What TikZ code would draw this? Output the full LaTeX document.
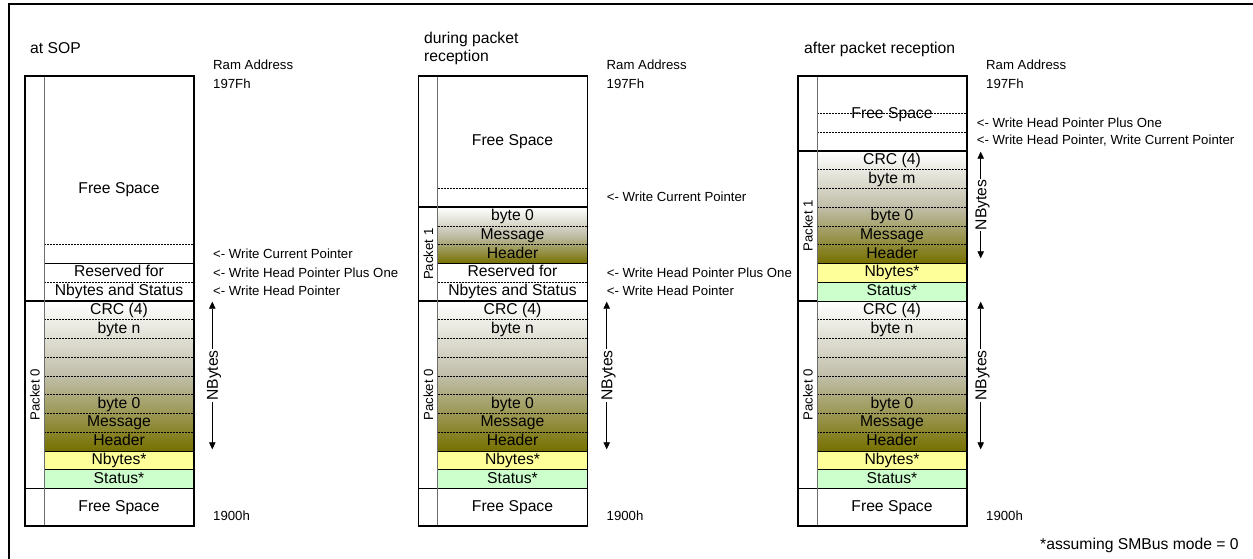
\documentclass[tikz,border=0pt]{standalone}
\usepackage{fontspec}
\setmainfont{Liberation Sans}
\usetikzlibrary{arrows.meta}
\definecolor{olv}{RGB}{118,112,0}
\definecolor{olmid}{RGB}{192,190,168}
\definecolor{nby}{RGB}{255,255,153}
\definecolor{sta}{RGB}{204,255,204}
\definecolor{innergray}{RGB}{110,110,110}
\tikzset{
 big/.style={font=\fontsize{15.7}{18}\selectfont},
 small/.style={font=\fontsize{13.2}{15}\selectfont},
 rowtxt/.style={big, inner sep=0pt, text height=11.2pt, text depth=3.3pt},
 ann/.style={small, inner sep=0pt, anchor=base west},
 ttl/.style={big, inner sep=0pt, anchor=base west},
 pkt/.style={small, inner sep=0pt, rotate=90, text height=9.4pt, text depth=0pt},
 sep/.style={dash pattern=on 2pt off 1pt, line width=0.6pt},
 solidsep/.style={line width=0.7pt},
 pktline/.style={line width=1.6pt},
 boxline/.style={line width=1.2pt},
 innerline/.style={line width=0.8pt, draw=innergray},
 nbarrow/.style={line width=0.8pt, {Triangle[length=7pt,width=6.5pt]}-{Triangle[length=7pt,width=6.5pt]}},
 nblabel/.style={big, inner sep=0.8pt, fill=white, rotate=90, text height=11.2pt, text depth=0pt},
 pktshade/.style={top color=white, bottom color=olv, middle color=olmid},
}
% frame of one memory column: #1 = left x
\newcommand\memframe[1]{%
 \draw[innerline] ({#1+19},{ry(0)}) -- ({#1+19},{ry(24)});
 \draw[boxline] ({#1},{ry(0)}) rectangle ({#1+169},{ry(24)});
}
% packet 0 and the common labels: #1 = left x, #2 = name prefix, #3 = arrow x
\newcommand\pktzero[3]{%
 \shade[pktshade] ({#1+19},{ry(12)}) rectangle ({#1+169},{ry(20)});
 \fill[nby] ({#1+19},{ry(20)}) rectangle ({#1+169},{ry(21)});
 \fill[sta] ({#1+19},{ry(21)}) rectangle ({#1+169},{ry(22)});
 \foreach \k in {13,...,19} {\draw[sep] ({#1+19},{ry(\k)}) -- ({#1+169},{ry(\k)});}
 \draw[solidsep] ({#1+19},{ry(20)}) -- ({#1+169},{ry(20)});
 \draw[solidsep] ({#1+19},{ry(21)}) -- ({#1+169},{ry(21)});
 \draw[pktline] ({#1},{ry(12)}) -- ({#1+169},{ry(12)});
 \draw[pktline] ({#1},{ry(22)}) -- ({#1+169},{ry(22)});
 \node[rowtxt] (#2crcz) at ({#1+94},{ry(12.5)}) {CRC (4)};
 \node[rowtxt] (#2bn) at ({#1+94},{ry(13.5)}) {byte n};
 \node[rowtxt] (#2bzz) at ({#1+94},{ry(17.5)}) {byte 0};
 \node[rowtxt] (#2msgz) at ({#1+94},{ry(18.5)}) {Message};
 \node[rowtxt] (#2hdrz) at ({#1+94},{ry(19.5)}) {Header};
 \node[rowtxt] (#2nbz) at ({#1+94},{ry(20.5)}) {Nbytes*};
 \node[rowtxt] (#2stz) at ({#1+94},{ry(21.5)}) {Status*};
 \node[rowtxt] (#2fsb) at ({#1+94},507.8) {Free Space};
 \node[pkt] (#2pz) at ({#1+10},{ry(17)}) {Packet 0};
 \coordinate (#2ntz) at (#3,301.7);
 \coordinate (#2nbtz) at (#3,449.3);
 \draw[nbarrow] (#2ntz) -- node[nblabel] (#2nlz) {NBytes} (#2nbtz);
 \node[ann] (#2addr) at ({#1+188},70) {Ram Address};
 \node[ann] (#2top) at ({#1+188},89) {197Fh};
 \node[ann] (#2bot) at ({#1+188},520) {1900h};
}
\begin{document}
\begin{tikzpicture}[x=1pt,y=-1pt,declare function={ry(\i)=76+18.75*\i;}]
\useasboundingbox (0,0) rectangle (1253,559);
\fill[white] (0,0) rectangle (1253,559);
\draw[line width=2pt] (9,559) -- (9,4) -- (1253,4);

% ---------------- column 1: at SOP ----------------
\node[ttl] (t1) at (30,53.3) {at SOP};
\pktzero{25}{a}{212.3}
\draw[sep] (44,{ry(9)}) -- (194,{ry(9)});
\draw[solidsep] (44,{ry(10)}) -- (194,{ry(10)});
\draw[sep] (44,{ry(11)}) -- (194,{ry(11)});
\memframe{25}
\node[rowtxt] (afs) at (119,189.4) {Free Space};
\node[rowtxt] (ares) at (119,{ry(10.5)}) {Reserved for};
\node[rowtxt] (ans) at (119,{ry(11.5)}) {Nbytes and Status};
\node[ann] (awc) at (213,258.3) {<- Write Current Pointer};
\node[ann] (awhp) at (213,277.3) {<- Write Head Pointer Plus One};
\node[ann] (awh) at (213,295) {<- Write Head Pointer};

% ---------------- column 2: during packet reception ----------------
\node[ttl] (t2a) at (424,43.7) {during packet};
\node[ttl] (t2b) at (424,61.7) {reception};
\pktzero{418.5}{b}{606.7}
\shade[pktshade] (437.5,{ry(7)}) rectangle (587.5,{ry(10)});
\draw[sep] (437.5,{ry(6)}) -- (587.5,{ry(6)});
\draw[sep] (437.5,{ry(8)}) -- (587.5,{ry(8)});
\draw[sep] (437.5,{ry(9)}) -- (587.5,{ry(9)});
\draw[solidsep] (437.5,{ry(10)}) -- (587.5,{ry(10)});
\draw[sep] (437.5,{ry(11)}) -- (587.5,{ry(11)});
\draw[pktline] (418.5,{ry(7)}) -- (587.5,{ry(7)});
\memframe{418.5}
\node[rowtxt] (bfs) at (512.5,142) {Free Space};
\node[rowtxt] (bbz) at (512.5,{ry(7.5)}) {byte 0};
\node[rowtxt] (bmsg) at (512.5,{ry(8.5)}) {Message};
\node[rowtxt] (bhdr) at (512.5,{ry(9.5)}) {Header};
\node[rowtxt] (bres) at (512.5,{ry(10.5)}) {Reserved for};
\node[rowtxt] (bns) at (512.5,{ry(11.5)}) {Nbytes and Status};
\node[pkt] (bp1) at (428.5,{ry(9.5)}) {Packet 1};
\node[ann] (bwc) at (606.7,201.7) {<- Write Current Pointer};
\node[ann] (bwhp) at (606.7,277.3) {<- Write Head Pointer Plus One};
\node[ann] (bwh) at (606.7,295) {<- Write Head Pointer};

% ---------------- column 3: after packet reception ----------------
\node[ttl] (t3) at (804,53.3) {after packet reception};
\pktzero{798}{c}{980.7}
\shade[pktshade] (817,{ry(4)}) rectangle (967,{ry(10)});
\fill[nby] (817,{ry(10)}) rectangle (967,{ry(11)});
\fill[sta] (817,{ry(11)}) rectangle (967,{ry(12)});
\draw[sep] (817,{ry(2)}) -- (967,{ry(2)});
\draw[sep] (817,{ry(3)}) -- (967,{ry(3)});
\foreach \k in {5,...,9} {\draw[sep] (817,{ry(\k)}) -- (967,{ry(\k)});}
\draw[solidsep] (817,{ry(10)}) -- (967,{ry(10)});
\draw[solidsep] (817,{ry(11)}) -- (967,{ry(11)});
\draw[pktline] (798,{ry(4)}) -- (967,{ry(4)});
\memframe{798}
\node[rowtxt] (cfs) at (892,114.4) {Free Space};
\node[rowtxt] (ccrc) at (892,{ry(4.5)}) {CRC (4)};
\node[rowtxt] (cbm) at (892,{ry(5.5)}) {byte m};
\node[rowtxt] (cbz) at (892,{ry(7.5)}) {byte 0};
\node[rowtxt] (cmsg) at (892,{ry(8.5)}) {Message};
\node[rowtxt] (chdr) at (892,{ry(9.5)}) {Header};
\node[rowtxt] (cnb) at (892,{ry(10.5)}) {Nbytes*};
\node[rowtxt] (cst) at (892,{ry(11.5)}) {Status*};
\node[pkt] (cp1) at (808,{ry(8)}) {Packet 1};
\coordinate (cnt1) at (980.7,151.7);
\coordinate (cnb1) at (980.7,258.3);
\draw[nbarrow] (cnt1) -- node[nblabel] (cnl1) {NBytes} (cnb1);
\node[ann] (cwhp) at (976.7,127.3) {<- Write Head Pointer Plus One};
\node[ann] (cwh) at (976.7,145) {<- Write Head Pointer, Write Current Pointer};

\node[ttl] (foot) at (1040,549.3) {*assuming SMBus mode = 0};
\end{tikzpicture}
\end{document}
